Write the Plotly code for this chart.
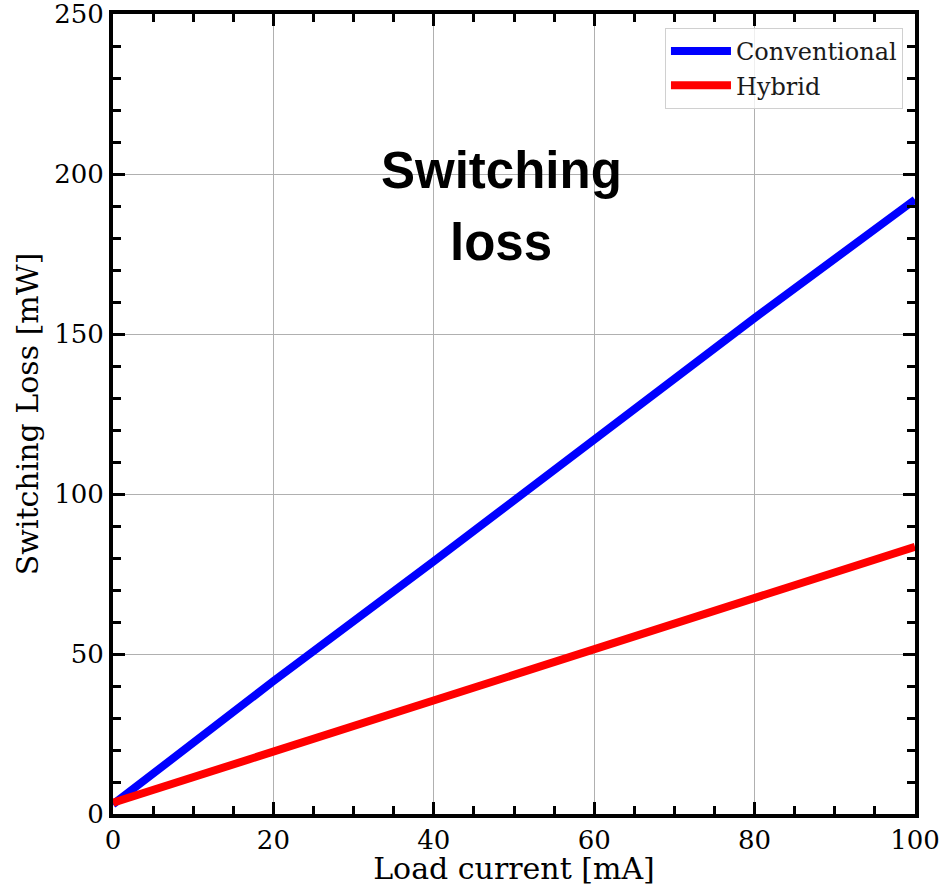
import plotly.graph_objects as go

load_current = [0, 20, 40, 60, 80, 100]
conventional = [3.0, 41.5, 79.0, 117.0, 155.0, 192.0]
hybrid = [3.5, 19.5, 35.5, 51.5, 67.5, 83.5]

fig = go.Figure()
fig.add_trace(go.Scatter(x=load_current, y=conventional, mode="lines", name="Conventional",
                         line=dict(color="#0000ff", width=8)))
fig.add_trace(go.Scatter(x=load_current, y=hybrid, mode="lines", name="Hybrid",
                         line=dict(color="#ff0000", width=8)))

serif = "DejaVu Serif"
axis_common = dict(
    showline=True, linecolor="black", linewidth=4, mirror="allticks",
    ticks="inside", ticklen=12, tickwidth=3, tickcolor="black",
    showgrid=True, gridcolor="#b0b0b0", gridwidth=1, zeroline=False,
    tickfont=dict(family=serif, size=26, color="black"), automargin=False,
    ticklabeloverflow="allow",
)
fig.update_xaxes(range=[0, 100], dtick=20, tick0=0,
                 title=dict(text="Load current [mA]", font=dict(family=serif, size=30, color="black"), standoff=3),
                 minor=dict(ticks="inside", ticklen=8, tickwidth=3, tickcolor="black", dtick=5, showgrid=False),
                 **axis_common)
fig.update_yaxes(range=[0, 250], dtick=50, tick0=0,
                 title=dict(text="Switching Loss [mW]", font=dict(family=serif, size=30, color="black"), standoff=8),
                 minor=dict(ticks="inside", ticklen=8, tickwidth=3, tickcolor="black", dtick=10, showgrid=False),
                 **axis_common)

title_font = dict(family="Liberation Sans, Arial", size=51, color="black")
fig.add_annotation(x=0.484, y=0.804, xref="paper", yref="paper", xanchor="center", yanchor="middle",
                   text="<b>Switching</b>", showarrow=False, font=title_font)
fig.add_annotation(x=0.484, y=0.714, xref="paper", yref="paper", xanchor="center", yanchor="middle",
                   text="<b>loss</b>", showarrow=False, font=title_font)

fig.update_layout(
    width=945, height=886,
    margin=dict(l=113, r=30, t=14, b=72),
    plot_bgcolor="white", paper_bgcolor="white",
    legend=dict(x=0.985, y=0.9825, xanchor="right", yanchor="top",
                bgcolor="rgba(255,255,255,0.8)", bordercolor="#d0d0d0", borderwidth=1,
                font=dict(family=serif, size=24, color="#1a1a1a"), itemwidth=60),
    showlegend=True,
)
fig.write_html("out.html", config={"displayModeBar": False},
               post_script="document.body.style.margin='0';document.body.style.padding='0';")
